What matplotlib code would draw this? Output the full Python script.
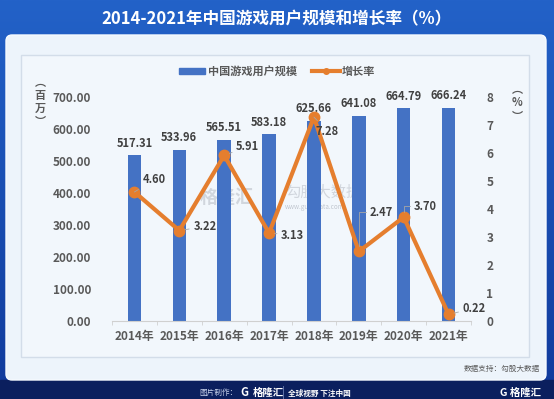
# -*- coding: utf-8 -*-

# 2014-2021年中国游戏用户规模和增长率

import numpy as np
import matplotlib
matplotlib.use('Agg')
import matplotlib.pyplot as plt
from matplotlib.patches import FancyBboxPatch, Rectangle

plt.rcParams['font.family'] = ['Noto Sans CJK SC', 'DejaVu Sans']

# 数据
years = ['2014年', '2015年', '2016年', '2017年', '2018年', '2019年', '2020年', '2021年']
users = [517.31, 533.96, 565.51, 583.18, 625.66, 641.08, 664.79, 666.24]
growth = [4.60, 3.22, 5.91, 3.13, 7.28, 2.47, 3.70, 0.22]
left_ticks = [0, 100, 200, 300, 400, 500, 600, 700]
right_ticks = [0, 1, 2, 3, 4, 5, 6, 7, 8]

# 增长率标签的偏移(像素, 右/下)和引线样式
label_offsets = [(8, -12), (14, -4), (12, -9), (12, 2), (2, 14), (11, -39), (10, -11), (14, -6)]
leader_style = ['arc3', 'arc3', 'arc3', 'arc3', 'arc3',
                'angle,angleA=0,angleB=90,rad=0', 'angle,angleA=0,angleB=90,rad=0', 'arc3']

W, H = 554, 399
fig = plt.figure(figsize=(W / 100, H / 100), dpi=100)

# 背景渐变
bg = fig.add_axes([0, 0, 1, 1], zorder=-10)
grad = np.linspace(0, 1, 256).reshape(-1, 1)
top = np.array([0x23, 0x62, 0xc8]) / 255
bot = np.array([0x10, 0x3a, 0x9c]) / 255
img = top + (bot - top) * grad[:, :, None]
bg.imshow(img, aspect='auto', extent=[0, W, H, 0])
bg.add_patch(Rectangle((0, 380), W, 19, color='#0b1f5e', zorder=2))
bg.set_xlim(0, W)
bg.set_ylim(H, 0)
bg.axis('off')

# 白色面板和内框
bg.add_patch(FancyBboxPatch((6, 35), 540, 345, boxstyle='round,pad=0,rounding_size=6',
                            facecolor='#edf4fb', edgecolor='#f7fbff', lw=1, zorder=3))
bg.add_patch(Rectangle((21, 55), 508, 301.5, facecolor='#f2f7fc', edgecolor='#d3dde9',
                       lw=1, zorder=4))

# 水印
bg.text(200, 197, '格隆汇', fontsize=13, color='#c9ced6', alpha=0.8, fontweight='bold',
        va='center', zorder=5)
bg.text(285, 192, '勾股大数据', fontsize=11, color='#c9ced6', alpha=0.8, va='center', zorder=5)
bg.text(285, 207, 'www.gugudata.com', fontsize=4.5, color='#c0c6cf', va='center', zorder=5)

# 标题
fig.text(0.5, 1 - 19 / H, '2014-2021年中国游戏用户规模和增长率（%）', color='white',
         fontsize=12, fontweight='bold', ha='center', va='center')

# 主图
ax = fig.add_axes([112 / W, 1 - 320.5 / H, (471 - 112) / W, (320.5 - 97) / H])
ax.set_facecolor('none')
x = np.arange(len(years))
ax.bar(x, users, width=0.3, color='#4472c4', zorder=2)
ax.set_xlim(-0.5, len(years) - 0.5)
ax.set_ylim(0, 700)
ax.set_yticks(left_ticks)
ax.set_yticklabels(['%.2f' % v for v in left_ticks])
ax.set_xticks(x)
ax.set_xticklabels(years)
ax.set_xticks(np.arange(-0.5, len(years)), minor=True)
ax.tick_params(axis='x', which='major', length=0, pad=7, labelsize=8.5, labelcolor='#595959')
ax.tick_params(axis='x', which='minor', length=3, color='#d0d0d0')
ax.tick_params(axis='y', length=0, pad=15, labelsize=8.5, labelcolor='#595959')
for lab in ax.get_xticklabels() + ax.get_yticklabels():
    lab.set_fontweight('bold')
for s in ['top', 'left', 'right']:
    ax.spines[s].set_visible(False)
ax.spines['bottom'].set_color('#d0d0d0')

for xi, v in zip(x, users):
    ax.annotate('%.2f' % v, (xi, v), xytext=(0, 4), textcoords='offset points',
                ha='center', va='bottom', fontsize=8, fontweight='bold', color='#404040')

ax2 = ax.twinx()
ax2.plot(x, growth, color='#e57e2e', lw=3, marker='o', ms=7.5, zorder=3)
ax2.set_ylim(0, 8)
ax2.set_yticks(right_ticks)
ax2.tick_params(axis='y', length=0, pad=11, labelsize=8.5, labelcolor='#595959')
for lab in ax2.get_yticklabels():
    lab.set_fontweight('bold')
for s in ['top', 'left', 'right', 'bottom']:
    ax2.spines[s].set_visible(False)

for xi, v, (dx, dy), cs in zip(x, growth, label_offsets, leader_style):
    ax2.annotate('%.2f' % v, (xi, v), xytext=(dx * 0.72, -dy * 0.72), textcoords='offset points',
                 ha='left', va='center', fontsize=8, fontweight='bold', color='#404040',
                 arrowprops=dict(arrowstyle='-', color='#a6a6a6', lw=0.6, shrinkA=1, shrinkB=4,
                                 connectionstyle=cs))

# 轴标题(竖排)
fig.text(40 / W, 1 - 102 / H, '︵\n百\n万\n︶', fontsize=8, fontweight='bold', color='#595959',
         ha='center', va='center', linespacing=1.0)
fig.text(517 / W, 1 - 103 / H, '︵\n%\n︶', fontsize=8, fontweight='bold', color='#595959',
         ha='center', va='center', linespacing=1.0)

# 图例
lg_y = 1 - 71 / H
fig.patches.append(Rectangle((179 / W, lg_y - 3 / H), 26 / W, 6 / H, color='#4472c4',
                             transform=fig.transFigure, figure=fig))
fig.text(208 / W, lg_y, '中国游戏用户规模', fontsize=8, fontweight='bold', color='#595959',
         va='center')
fig.lines.append(plt.Line2D([312 / W, 326 / W, 340 / W], [lg_y, lg_y, lg_y], color='#e57e2e',
                            lw=3, marker='o', ms=4, markevery=[1], transform=fig.transFigure))
fig.text(342 / W, lg_y, '增长率', fontsize=8, fontweight='bold', color='#595959', va='center')

# 底部文字
fig.text(540 / W, 1 - 369 / H, '数据支持：勾股大数据', fontsize=5.5, color='#595959',
         ha='right', va='center')
fig.text(199 / W, 1 - 393 / H, '图片制作：', fontsize=5.5, color='#c8d2ea', va='center')
fig.text(240 / W, 1 - 393 / H, 'G', fontsize=8, color='white', fontweight='bold', va='center')
fig.text(253 / W, 1 - 393 / H, '格隆汇', fontsize=7.5, color='white', fontweight='bold',
         va='center')
fig.lines.append(plt.Line2D([283 / W, 283 / W], [1 - 386 / H, 1 - 399 / H], color='#6c7fb5',
                            lw=0.6, transform=fig.transFigure))
fig.text(288 / W, 1 - 393 / H, '全球视野 下注中国', fontsize=5.5, color='white',
         fontweight='bold', va='center')
fig.text(541 / W, 1 - 393 / H, 'G 格隆汇', fontsize=7.5, color='white', fontweight='bold',
         ha='right', va='center')

plt.savefig('out.png', dpi=100)
